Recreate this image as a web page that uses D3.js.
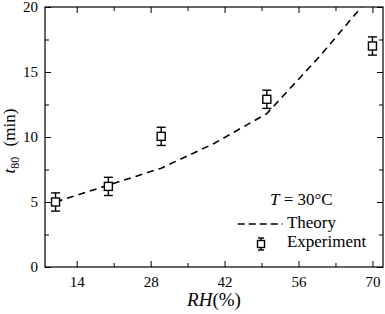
<!DOCTYPE html>
<html>
<head>
<meta charset="utf-8">
<script src="https://cdn.jsdelivr.net/npm/d3@7"></script>
<style>
  body { margin: 0; background: #fff; }
</style>
</head>
<body>
<div id="chart"></div>
<script>
// data
const rhExp = [10, 20, 30, 50, 70];
const tExp = [5.0, 6.2, 10.05, 12.9, 17.0];
const tErr = [0.7, 0.7, 0.7, 0.7, 0.7];

const rhTheory = [10, 20, 30, 40, 50, 60, 70];
const tTheory = [5.0, 6.3, 7.6, 9.5, 11.8, 16.2, 21.0];

const xTicks = [14, 28, 42, 56, 70];
const yTicks = [0, 5, 10, 15, 20];

const FONT = "'Liberation Serif', 'Times New Roman', serif";

const width = 385, height = 314;
const margin = { left: 45, right: 2, top: 7, bottom: 47 };
const w = width - margin.left - margin.right;
const h = height - margin.top - margin.bottom;

const x = d3.scaleLinear().domain([8, 72]).range([0, w]);
const y = d3.scaleLinear().domain([0, 20]).range([h, 0]);

const svg = d3.select("#chart").append("svg")
  .attr("width", width)
  .attr("height", height)
  .style("font-family", FONT);

const g = svg.append("g")
  .attr("transform", "translate(" + [margin.left, margin.top] + ")");

g.append("defs").append("clipPath").attr("id", "clip")
  .append("rect").attr("width", w).attr("height", h);

// inward ticks on all four sides, with minor ticks in between
const xMinor = d3.range(7, 72, 7).filter(v => v > 8 && xTicks.indexOf(v) < 0);
const yMinor = d3.range(2.5, 20, 5);

function tickAxis(axisFn, scale, ticks, len, pad, showLabels) {
  return axisFn(scale).tickValues(ticks).tickSize(-len).tickPadding(pad)
    .tickFormat(showLabels ? d3.format("d") : "");
}

function drawAxis(t, axis) {
  const a = g.append("g").attr("transform", t).call(axis);
  a.attr("font-family", null).attr("font-size", null);
  a.select(".domain").remove();
  a.selectAll("line").attr("stroke", "#000").attr("stroke-width", 1);
  a.selectAll("text").style("font-size", "15px").style("font-family", FONT);
  return a;
}

drawAxis("translate(0," + h + ")", tickAxis(d3.axisBottom, x, xTicks, 6, 9, true));
drawAxis("translate(0," + h + ")", tickAxis(d3.axisBottom, x, xMinor, 4, 9, false));
drawAxis("translate(0,0)", tickAxis(d3.axisTop, x, xTicks, 6, 9, false));
drawAxis("translate(0,0)", tickAxis(d3.axisTop, x, xMinor, 4, 9, false));
drawAxis("translate(0,0)", tickAxis(d3.axisLeft, y, yTicks, 6, 7, true));
drawAxis("translate(0,0)", tickAxis(d3.axisLeft, y, yMinor, 4, 7, false));
drawAxis("translate(" + w + ",0)", tickAxis(d3.axisRight, y, yTicks, 6, 7, false));
drawAxis("translate(" + w + ",0)", tickAxis(d3.axisRight, y, yMinor, 4, 7, false));

g.append("rect")
  .attr("width", w).attr("height", h)
  .attr("fill", "none").attr("stroke", "#000").attr("stroke-width", 1.2);

// theory curve
const line = d3.line().x((d, i) => x(rhTheory[i])).y(d => y(d));
g.append("path")
  .datum(tTheory)
  .attr("clip-path", "url(#clip)")
  .attr("d", line)
  .attr("fill", "none")
  .attr("stroke", "#000")
  .attr("stroke-width", 1.6)
  .attr("stroke-dasharray", "7,5");

// experiment points with error bars
const pts = g.selectAll(".pt").data(tExp).enter().append("g")
  .attr("class", "pt")
  .attr("transform", (d, i) => "translate(" + [x(rhExp[i]), 0] + ")");

pts.append("line")
  .attr("y1", (d, i) => y(d - tErr[i])).attr("y2", (d, i) => y(d + tErr[i]))
  .attr("stroke", "#000").attr("stroke-width", 1.4);
pts.append("line")
  .attr("x1", -4.5).attr("x2", 4.5)
  .attr("y1", (d, i) => y(d + tErr[i])).attr("y2", (d, i) => y(d + tErr[i]))
  .attr("stroke", "#000").attr("stroke-width", 1.4);
pts.append("line")
  .attr("x1", -4.5).attr("x2", 4.5)
  .attr("y1", (d, i) => y(d - tErr[i])).attr("y2", (d, i) => y(d - tErr[i]))
  .attr("stroke", "#000").attr("stroke-width", 1.4);
pts.append("rect")
  .attr("x", -4).attr("y", d => y(d) - 4)
  .attr("width", 8).attr("height", 8)
  .attr("fill", "#fff").attr("stroke", "#000").attr("stroke-width", 1.4);

// axis labels
const yl = svg.append("text")
  .attr("transform", "translate(15,141) rotate(-90)")
  .attr("text-anchor", "middle")
  .style("font-family", FONT)
  .style("font-size", "17px");
yl.append("tspan").attr("font-style", "italic").text("t");
yl.append("tspan").style("font-size", "12px").attr("dy", 4).text("80");
yl.append("tspan").attr("dy", -4).attr("dx", 6).text(" (min)");

const xl = svg.append("text")
  .attr("x", margin.left + x(40)).attr("y", 306)
  .attr("text-anchor", "middle")
  .style("font-family", FONT)
  .style("font-size", "19px");
xl.append("tspan").attr("font-style", "italic").text("RH");
xl.append("tspan").text("(%)");

// legend
const lg = g.append("g");
const tl = lg.append("text").attr("x", x(50.6)).attr("y", 198)
  .style("font-family", FONT).style("font-size", "17px");
tl.append("tspan").attr("font-style", "italic").text("T");
tl.append("tspan").text(" = 30°C");

lg.append("line")
  .attr("x1", x(44.5)).attr("x2", x(53)).attr("y1", 217).attr("y2", 217)
  .attr("stroke", "#000").attr("stroke-width", 1.6).attr("stroke-dasharray", "7,4");
lg.append("text").attr("x", x(53.8)).attr("y", 221)
  .style("font-family", FONT).style("font-size", "17px").text("Theory");

const lx = x(48.9), ly = 237;
lg.append("line").attr("x1", lx).attr("x2", lx).attr("y1", ly - 6).attr("y2", ly + 6)
  .attr("stroke", "#000").attr("stroke-width", 1.4);
lg.append("line").attr("x1", lx - 3).attr("x2", lx + 3).attr("y1", ly - 6).attr("y2", ly - 6)
  .attr("stroke", "#000").attr("stroke-width", 1.4);
lg.append("line").attr("x1", lx - 3).attr("x2", lx + 3).attr("y1", ly + 6).attr("y2", ly + 6)
  .attr("stroke", "#000").attr("stroke-width", 1.4);
lg.append("rect").attr("x", lx - 3.5).attr("y", ly - 3.5).attr("width", 7).attr("height", 7)
  .attr("fill", "#fff").attr("stroke", "#000").attr("stroke-width", 1.4);
lg.append("text").attr("x", x(53.8)).attr("y", 240)
  .style("font-family", FONT).style("font-size", "17px").text("Experiment");
</script>
</body>
</html>
